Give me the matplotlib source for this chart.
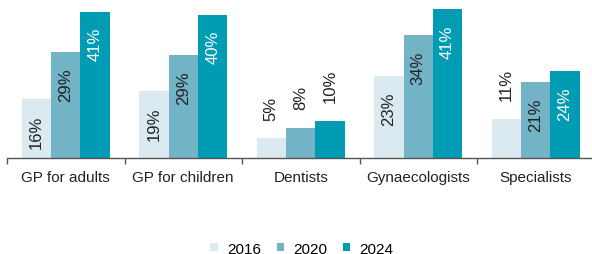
# grouped bar chart: share by category and survey year

import numpy as np
import matplotlib.pyplot as plt

plt.rcParams['font.family'] = ['Liberation Sans', 'DejaVu Sans']

categories = ["GP for adults", "GP for children", "Dentists", "Gynaecologists", "Specialists"]
years = ["2016", "2020", "2024"]
v2016 = [16.3, 18.6, 5.4, 22.7, 10.8]
v2020 = [29.3, 28.6, 8.2, 34.0, 21.1]
v2024 = [40.6, 39.7, 10.2, 41.3, 24.1]
colors = ["#dbe9f0", "#72b3c6", "#009cb4"]
text_colors = ["#222222", "#222222", "white"]

fig = plt.figure(figsize=(5.92, 2.55), dpi=100)
ax = fig.add_axes([7 / 592, 96.3 / 255, 587.5 / 592, 158.4 / 255])

x = np.arange(len(categories))
width = 0.25
for i, (vals, c, tc) in enumerate(zip((v2016, v2020, v2024), colors, text_colors)):
    pos = x + (i - 1) * width
    ax.bar(pos, vals, width, color=c, label=years[i], linewidth=0)
    for p, v in zip(pos, vals):
        if v >= 15:
            ax.annotate(f"{round(v)}%", (p, v), xytext=(0, -11), textcoords="offset points",
                        rotation=90, ha="center", va="top", fontsize=12, color=tc)
        else:
            ax.annotate(f"{round(v)}%", (p, v), xytext=(0, 13.5), textcoords="offset points",
                        rotation=90, ha="center", va="bottom", fontsize=12, color="#222222")

ax.set_xlim(-0.5, len(categories) - 0.5)
ax.set_ylim(0, 44)
ax.set_yticks([])
for s in ("top", "right", "left"):
    ax.spines[s].set_visible(False)
ax.spines["bottom"].set_color("#555555")
ax.spines["bottom"].set_linewidth(1.0)

ax.set_xticks(np.arange(len(categories) + 1) - 0.5)
ax.set_xticklabels([])
ax.tick_params(axis="x", length=4, color="#555555", width=1.0)
ax.set_xticks(x, minor=True)
ax.set_xticklabels(categories, minor=True, fontsize=11, color="#222222")
ax.tick_params(axis="x", which="minor", length=0, pad=9)

fig.legend(loc="lower center", bbox_to_anchor=(0.51, -0.06), ncol=3, frameon=False,
           fontsize=11, handlelength=0.5, handleheight=0.5, handletextpad=0.6,
           columnspacing=1.0)

fig.savefig("out.png", dpi=100)
